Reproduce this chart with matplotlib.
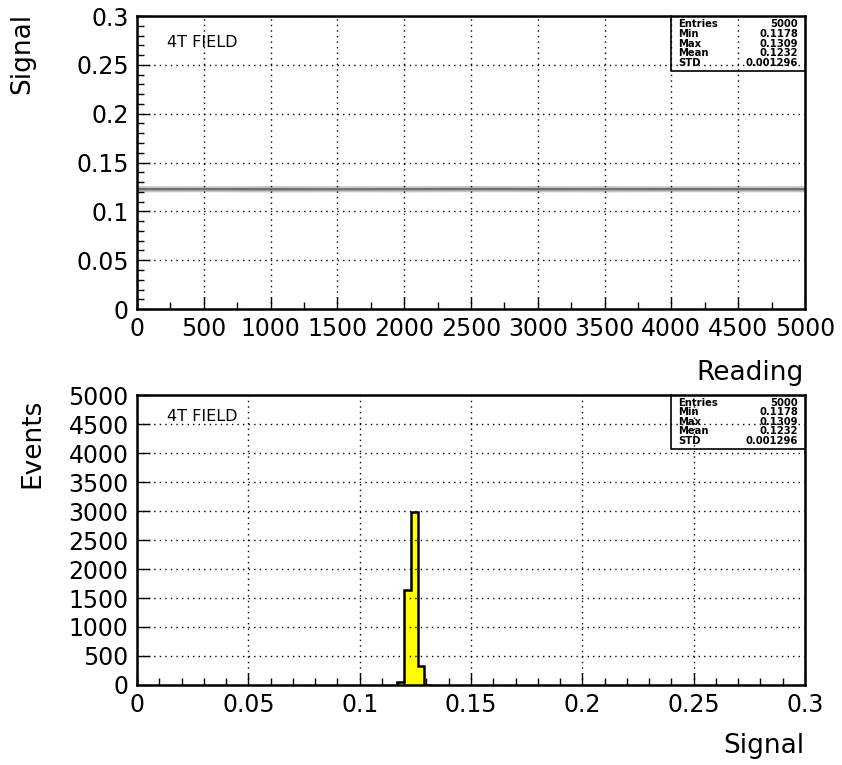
import matplotlib
matplotlib.use("Agg")
import matplotlib.pyplot as plt
from matplotlib.ticker import MultipleLocator

# ---------------------------------------------------------------------------
# Data
# ---------------------------------------------------------------------------

# signal band across the run (reading index -> spread of the readings)
reading_pos = [0, 500, 1000, 1500, 2000, 2500, 3000, 3500, 4000, 4500, 5000]
band_lo = [0.1200, 0.1202, 0.1199, 0.1201, 0.1200, 0.1202, 0.1201, 0.1200, 0.1202, 0.1201, 0.1201]
band_hi = [0.1263, 0.1262, 0.1264, 0.1262, 0.1263, 0.1265, 0.1263, 0.1264, 0.1262, 0.1263, 0.1263]
core_lo = [0.1220, 0.1221, 0.1219, 0.1220, 0.1221, 0.1222, 0.1220, 0.1221, 0.1220, 0.1221, 0.1220]
core_hi = [0.1245, 0.1244, 0.1245, 0.1243, 0.1244, 0.1246, 0.1245, 0.1244, 0.1245, 0.1244, 0.1244]

# signal histogram (bin edges, entries per bin)
bin_edges = [0.117, 0.120, 0.123, 0.126, 0.129, 0.132]
bin_counts = [60, 1640, 2975, 320, 5]

stat_names = ["Entries", "Min", "Max", "Mean", "STD"]
stat_values = ["5000", "0.1178", "0.1309", "0.1232", "0.001296"]

field_label = "4T FIELD"

# ---------------------------------------------------------------------------
# Helpers
# ---------------------------------------------------------------------------

def style_frame(ax):
    for s in ax.spines.values():
        s.set_linewidth(1.8)
    ax.tick_params(which="both", direction="in", top=False, right=False,
                   labelsize=17, pad=6, width=1.0)
    ax.tick_params(which="major", length=9)
    ax.tick_params(which="minor", length=5)
    ax.grid(True, which="major", linestyle=(0, (1, 3)), color="black", linewidth=1.0)
    ax.set_axisbelow(False)


def stats_box(ax, y0):
    ax.plot([0.8, 0.8, 1.0], [1.0, y0, y0], transform=ax.transAxes,
            color="black", lw=1.2, clip_on=False)
    rows = len(stat_names)
    step = (1.0 - y0) / (rows + 0.6)
    for i, (name, val) in enumerate(zip(stat_names, stat_values)):
        yy = 1.0 - step * (i + 0.8)
        ax.text(0.81, yy, name, transform=ax.transAxes, fontsize=7.2,
                fontweight="bold", va="center", ha="left")
        ax.text(0.99, yy, val, transform=ax.transAxes, fontsize=7.2,
                fontweight="bold", va="center", ha="right")


fig = plt.figure(figsize=(8.42, 7.65), dpi=100)

# ── top panel: signal vs reading ────────────────────────────────────────────
ax1 = fig.add_axes([0.1627, 0.596, 0.7933, 0.383])
ax1.fill_between(reading_pos, band_lo, band_hi, color="#c4c4c4", lw=0)
ax1.fill_between(reading_pos, core_lo, core_hi, color="#6e6e6e", lw=0)
ax1.set_xlim(0, 5000)
ax1.set_ylim(0, 0.3)
ax1.xaxis.set_major_locator(MultipleLocator(500))
ax1.xaxis.set_minor_locator(MultipleLocator(250))
ax1.yaxis.set_major_locator(MultipleLocator(0.05))
ax1.yaxis.set_minor_locator(MultipleLocator(0.01))
ax1.yaxis.set_major_formatter(plt.FuncFormatter(lambda v, p: f"{v:g}"))
style_frame(ax1)
ax1.text(0.045, 0.91, field_label, transform=ax1.transAxes, fontsize=11.5, va="center")
stats_box(ax1, 0.812)
fig.text(0.955, 0.513, "Reading", fontsize=19, ha="right", va="center")
fig.text(0.026, 0.93, "Signal", fontsize=19, rotation=90, ha="center", va="center")

# ── bottom panel: histogram of signal ───────────────────────────────────────
ax2 = fig.add_axes([0.1627, 0.1046, 0.7933, 0.379])
ax2.stairs(bin_counts, bin_edges, fill=True, color="#ffff00")
ax2.stairs(bin_counts, bin_edges, color="black", lw=1.8)
ax2.set_xlim(0, 0.3)
ax2.set_ylim(0, 5000)
ax2.xaxis.set_major_locator(MultipleLocator(0.05))
ax2.xaxis.set_minor_locator(MultipleLocator(0.01))
ax2.xaxis.set_major_formatter(plt.FuncFormatter(lambda v, p: f"{v:g}"))
ax2.yaxis.set_major_locator(MultipleLocator(500))
style_frame(ax2)
ax2.text(0.045, 0.925, field_label, transform=ax2.transAxes, fontsize=11.5, va="center")
stats_box(ax2, 0.815)
fig.text(0.955, 0.025, "Signal", fontsize=19, ha="right", va="center")
fig.text(0.038, 0.42, "Events", fontsize=19, rotation=90, ha="center", va="center")

fig.savefig("out.png", dpi=100)
